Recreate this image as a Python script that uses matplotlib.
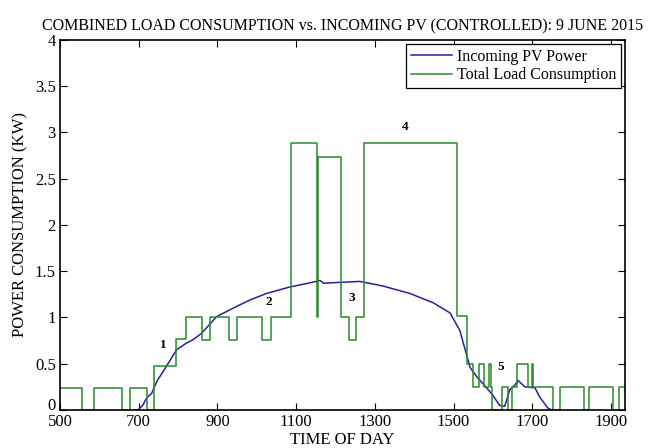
import matplotlib
matplotlib.use('Agg')
import matplotlib.pyplot as plt

# green load steps: time where each level starts, level (kW)
load_t = [500, 556, 587, 657, 677, 722, 740, 795, 820, 862, 880, 929, 950,
          1013, 1036, 1088, 1152, 1156, 1213, 1234, 1252, 1273, 1509, 1535,
          1549, 1565, 1578, 1590, 1594, 1599, 1622, 1638, 1648, 1661, 1689,
          1700, 1703, 1753, 1770, 1831, 1844, 1905, 1921, 1936]
load_kw = [0.24, 0.0, 0.24, 0.0, 0.24, 0.0, 0.48, 0.77, 1.01, 0.76, 1.01, 0.76, 1.01,
           0.76, 1.01, 2.89, 1.0, 2.74, 1.01, 0.76, 1.01, 2.89, 1.02, 0.5,
           0.25, 0.5, 0.25, 0.5, 0.25, 0.0, 0.25, 0.0, 0.25, 0.5, 0.25,
           0.5, 0.25, 0.0, 0.25, 0.0, 0.25, 0.0, 0.25, 0.25]

# blue PV curve
pv_t = [690, 698, 710, 720, 733, 746, 767, 796, 820, 838, 860, 898, 949, 983,
        1025, 1084, 1130, 1161, 1170, 1211, 1262, 1321, 1389, 1448, 1491, 1516,
        1533, 1542, 1559, 1584, 1600, 1617, 1630, 1643, 1656, 1664, 1681, 1707,
        1719, 1740, 1750]
pv_kw = [0.0, 0.0, 0.05, 0.13, 0.18, 0.31, 0.45, 0.65, 0.72, 0.76, 0.83, 1.01, 1.12, 1.19,
         1.26, 1.33, 1.37, 1.40, 1.37, 1.38, 1.39, 1.34, 1.26, 1.16, 1.05, 0.86,
         0.6, 0.46, 0.36, 0.24, 0.16, 0.05, 0.04, 0.22, 0.27, 0.32, 0.25, 0.24,
         0.14, 0.02, 0.0]

labels = ['1', '2', '3', '4', '5']
label_t = [762, 1031, 1242, 1376, 1620]
label_kw = [0.70, 1.17, 1.21, 3.06, 0.47]

xticks = [500, 700, 900, 1100, 1300, 1500, 1700, 1900]
yticks = [0, 0.5, 1, 1.5, 2, 2.5, 3, 3.5, 4]
ytick_labels = ['0', '0.5', '1', '1.5', '2', '2.5', '3', '3.5', '4']

plt.rcParams['font.family'] = ['Liberation Serif', 'DejaVu Serif']

fig = plt.figure(figsize=(6.64, 4.48), dpi=100)
ax = fig.add_axes([0.0904, 0.0848, 0.851, 0.826])

ax.plot(pv_t, pv_kw, color='#2222a0', lw=1.1, label='Incoming PV Power')
ax.plot(load_t, load_kw, color='#2a8a2a', lw=1.1, drawstyle='steps-post',
        label='Total Load Consumption')

for s, x, y in zip(labels, label_t, label_kw):
    ax.text(x, y, s, fontsize=9.5, fontweight='bold', ha='center', va='center')

ax.set_xlim(500, 1936)
ax.set_ylim(0, 4)
ax.set_xticks(xticks)
ax.set_yticks(yticks)
ax.set_yticklabels(ytick_labels)
ax.get_yticklabels()[0].set_va('baseline')  # "0" sits just above the corner
ax.tick_params(direction='in', top=True, right=True, labelsize=12, length=5)
ax.tick_params(axis='x', pad=3)
ax.tick_params(axis='y', pad=3)
for sp in ax.spines.values():
    sp.set_linewidth(1.2)

ax.set_xlabel('TIME OF DAY', fontsize=12, labelpad=1)
ax.set_ylabel('POWER CONSUMPTION (KW)', fontsize=12, labelpad=5)
ax.set_title('COMBINED LOAD CONSUMPTION vs. INCOMING PV (CONTROLLED): 9 JUNE 2015',
             fontsize=11.5, pad=7)

leg = ax.legend(loc='upper right', fontsize=11.5, handlelength=2.6, handletextpad=0.3,
                borderaxespad=0.25, fancybox=False, framealpha=1, borderpad=0.3,
                labelspacing=0.15)
leg.get_frame().set_edgecolor('black')
leg.get_frame().set_linewidth(0.9)

fig.savefig('out.png', dpi=100)
